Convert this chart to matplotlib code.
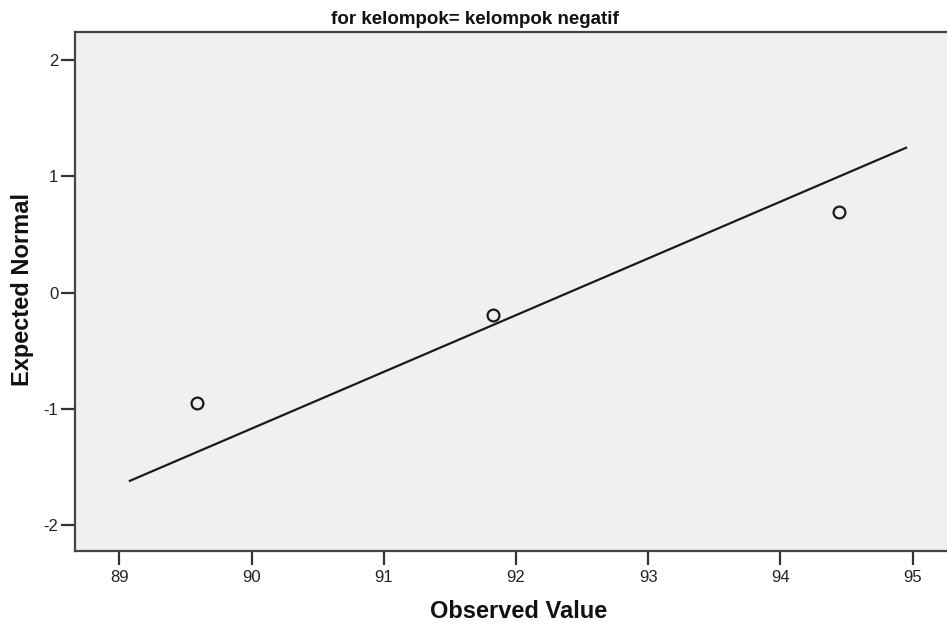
import matplotlib
matplotlib.use("Agg")
import matplotlib.pyplot as plt

observed = [89.59, 91.83, 94.44]
expected = [-0.95, -0.19, 0.69]

# reference line end points
line_x = [89.08, 94.95]
line_y = [-1.617, 1.245]

x_ticks = [89, 90, 91, 92, 93, 94, 95]
y_ticks = [-2, -1, 0, 1, 2]

plt.rcParams["font.family"] = ["Liberation Sans", "DejaVu Sans"]
plt.rcParams["axes.unicode_minus"] = False

fig = plt.figure(figsize=(9.47, 6.25), dpi=100)
ax = fig.add_axes([75/947, 1-551/625, 1-75/947, (551-32)/625])
ax.set_facecolor("#f0f0f0")

ax.plot(line_x, line_y, color="#1a1a1a", linewidth=1.6)
ax.plot(observed, expected, linestyle="none", marker="o", markersize=8.5,
        markerfacecolor="none", markeredgecolor="#1a1a1a", markeredgewidth=1.6)

ax.set_xlim(88.665, 95.26)
ax.set_ylim(-2.22, 2.24)
ax.set_xticks(x_ticks)
ax.set_yticks(y_ticks)
ax.tick_params(axis="both", direction="out", length=10, width=1.6, color="#333333",
               labelsize=12, labelcolor="#222222")
ax.tick_params(axis="x", pad=4)
ax.tick_params(axis="y", pad=2)

for side in ["left", "top", "bottom"]:
    ax.spines[side].set_color("#444444")
    ax.spines[side].set_linewidth(1.6)
ax.spines["right"].set_visible(False)

xl = ax.set_xlabel("Observed Value", fontsize=17, fontweight="bold", color="#111111")
yl = ax.set_ylabel("Expected Normal", fontsize=17, fontweight="bold", color="#111111")
xl.set_verticalalignment("center")
yl.set_verticalalignment("center")
ax.xaxis.set_label_coords(0.5086, -(611-551)/519)
ax.yaxis.set_label_coords((23-75)/872, 0.503)

fig.text(475/947, 1 - 19/625, "for kelompok= kelompok negatif",
         ha="center", va="center", fontsize=13.5, fontweight="bold", color="#111111")

fig.savefig("out.png", dpi=100, facecolor="white")
